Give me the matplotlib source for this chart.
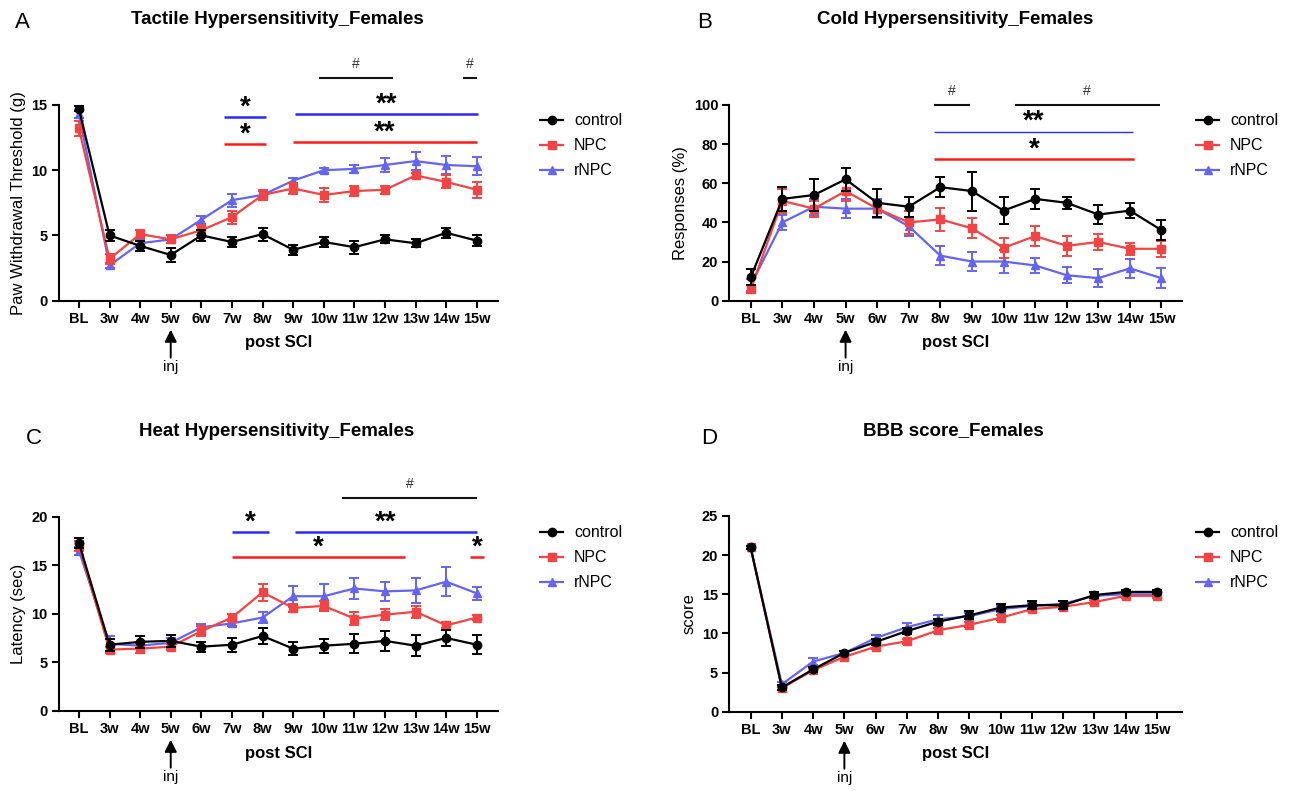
import matplotlib
matplotlib.use("Agg")
import matplotlib.pyplot as plt
from matplotlib.lines import Line2D
import numpy as np

plt.rcParams['font.family'] = ['Liberation Sans', 'DejaVu Sans']

weeks = ['BL', '3w', '4w', '5w', '6w', '7w', '8w', '9w', '10w', '11w', '12w', '13w', '14w', '15w']
groups = ['control', 'NPC', 'rNPC']

# A: tactile (g)
tact_ctrl = [14.7, 5.0, 4.2, 3.5, 5.0, 4.5, 5.1, 3.9, 4.5, 4.1, 4.7, 4.4, 5.2, 4.6]
tact_ctrl_err = [0.2, 0.4, 0.4, 0.5, 0.4, 0.4, 0.5, 0.4, 0.4, 0.5, 0.3, 0.3, 0.4, 0.4]
tact_npc = [13.2, 3.2, 5.1, 4.7, 5.4, 6.4, 8.1, 8.6, 8.1, 8.4, 8.5, 9.6, 9.1, 8.5]
tact_npc_err = [0.6, 0.4, 0.3, 0.3, 0.4, 0.5, 0.4, 0.4, 0.5, 0.4, 0.3, 0.2, 0.5, 0.6]
tact_rnpc = [14.3, 2.7, 4.4, 4.7, 6.2, 7.7, 8.1, 9.2, 10.0, 10.1, 10.4, 10.7, 10.4, 10.3]
tact_rnpc_err = [0.3, 0.2, 0.3, 0.3, 0.3, 0.5, 0.3, 0.2, 0.2, 0.3, 0.5, 0.7, 0.7, 0.7]

# B: cold (%)
cold_ctrl = [12, 52, 54, 62, 50, 48, 58, 56, 46, 52, 50, 44, 46, 36]
cold_ctrl_err = [4, 6, 8, 6, 7, 5, 5, 10, 7, 5, 3, 5, 4, 5]
cold_npc = [6, 51, 47, 56, 47, 40, 41.5, 37, 27, 33, 28, 30, 26.5, 26.5]
cold_npc_err = [2, 6, 4, 5, 4, 6, 6, 5, 5, 5, 5, 4, 3, 4]
cold_rnpc = [8, 40, 48, 47, 47, 38, 23, 20, 20, 18, 13, 11.5, 16.5, 11.5]
cold_rnpc_err = [3, 4, 4, 5, 5, 5, 5, 5, 6, 4, 4, 4.5, 5, 5]

# C: heat (sec)
heat_ctrl = [17.3, 6.8, 7.1, 7.2, 6.6, 6.8, 7.7, 6.4, 6.7, 6.9, 7.2, 6.7, 7.5, 6.8]
heat_ctrl_err = [0.5, 0.6, 0.6, 0.6, 0.5, 0.7, 0.8, 0.7, 0.7, 1.0, 1.0, 1.1, 0.8, 1.0]
heat_npc = [17.0, 6.3, 6.4, 6.6, 8.2, 9.6, 12.2, 10.6, 10.8, 9.5, 9.9, 10.2, 8.8, 9.6]
heat_npc_err = [0.5, 0.3, 0.4, 0.3, 0.5, 0.4, 0.9, 0.4, 0.5, 0.7, 0.6, 0.6, 0.3, 0.3]
heat_rnpc = [16.5, 6.9, 6.7, 7.0, 8.6, 9.0, 9.6, 11.8, 11.8, 12.6, 12.3, 12.4, 13.3, 12.1]
heat_rnpc_err = [0.4, 0.8, 0.3, 0.5, 0.3, 0.3, 0.6, 1.1, 1.3, 1.1, 1.0, 1.3, 1.5, 0.7]

# D: BBB score
bbb_ctrl = [21.0, 3.1, 5.4, 7.5, 8.9, 10.3, 11.5, 12.3, 13.3, 13.6, 13.6, 14.9, 15.3, 15.3]
bbb_ctrl_err = [0.2, 0.3, 0.3, 0.3, 0.4, 0.4, 0.4, 0.5, 0.5, 0.5, 0.5, 0.4, 0.3, 0.3]
bbb_npc = [21.0, 3.0, 5.3, 7.0, 8.3, 9.0, 10.4, 11.1, 12.0, 13.1, 13.4, 14.0, 14.8, 14.8]
bbb_npc_err = [0.2, 0.2, 0.3, 0.3, 0.3, 0.3, 0.3, 0.3, 0.3, 0.3, 0.3, 0.3, 0.3, 0.3]
bbb_rnpc = [21.0, 3.5, 6.4, 7.5, 9.4, 10.8, 11.8, 12.2, 13.1, 13.5, 13.8, 14.8, 15.0, 15.0]
bbb_rnpc_err = [0.2, 0.3, 0.4, 0.3, 0.4, 0.5, 0.5, 0.4, 0.4, 0.4, 0.4, 0.3, 0.3, 0.3]

# significance bars: (x start, x end, y, label, colour key, linewidth)
sig_a = [(7.85, 10.25, 17.1, '#', 'k', 1.5), (12.55, 13.0, 17.1, '#', 'k', 1.5),
         (4.75, 6.1, 14.1, '*', 'b', 1.8), (7.05, 13.05, 14.3, '**', 'b', 1.8),
         (4.75, 6.1, 12.0, '*', 'r', 1.8), (7.0, 13.0, 12.15, '**', 'r', 1.8)]
sig_b = [(5.8, 6.95, 100, '#', 'k', 1.5), (8.35, 12.95, 100, '#', 'k', 1.5),
         (5.8, 12.1, 86.4, '**', 'b', 1.0), (5.8, 12.12, 72.4, '*', 'r', 1.8)]
sig_c = [(8.6, 13.0, 21.9, '#', 'k', 1.5),
         (5.0, 6.2, 18.45, '*', 'b', 1.8), (7.05, 13.0, 18.45, '**', 'b', 1.8),
         (5.0, 10.65, 15.85, '*', 'r', 1.8), (12.78, 13.25, 15.85, '*', 'r', 1.8)]

colors = {'k': '#000000', 'r': '#f24444', 'b': '#6464f2'}
sig_colors = {'k': '#111111', 'r': '#ff1a1a', 'b': '#2a2aff'}

W, H = 1316, 791

# (letter, title, ylabel, axes rect, xlim, ylim, yticks, data, sigs,
#  letter px, title px, legend anchor px)
panels = [
    ('A', 'Tactile Hypersensitivity_Females', 'Paw Withdrawal Threshold (g)',
     [0.0446, 0.6199, 0.334, 0.2474], (-0.66, 13.7), (0, 15), [0, 5, 10, 15],
     (tact_ctrl, tact_ctrl_err, tact_npc, tact_npc_err, tact_rnpc, tact_rnpc_err), sig_a,
     (15, 22), (277, 20), (526, 99)),
    ('B', 'Cold Hypersensitivity_Females', 'Responses (%)',
     [0.5542, 0.6199, 0.344, 0.2474], (-0.68, 13.65), (0, 100), [0, 20, 40, 60, 80, 100],
     (cold_ctrl, cold_ctrl_err, cold_npc, cold_npc_err, cold_rnpc, cold_rnpc_err), sig_b,
     (697, 22), (955, 20), (1182, 99)),
    ('C', 'Heat Hypersensitivity_Females', 'Latency (sec)',
     [0.0446, 0.1015, 0.334, 0.2453], (-0.66, 13.7), (0, 20), [0, 5, 10, 15, 20],
     (heat_ctrl, heat_ctrl_err, heat_npc, heat_npc_err, heat_rnpc, heat_rnpc_err), sig_c,
     (26, 439), (277, 431), (526, 511)),
    ('D', 'BBB score_Females', 'score',
     [0.5542, 0.1003, 0.344, 0.2474], (-0.68, 13.8), (0, 25), [0, 5, 10, 15, 20, 25],
     (bbb_ctrl, bbb_ctrl_err, bbb_npc, bbb_npc_err, bbb_rnpc, bbb_rnpc_err), [],
     (701, 439), (953, 431), (1182, 511)),
]

fig = plt.figure(figsize=(W / 100, H / 100), dpi=100)
x = np.arange(len(weeks))

for (letter, title, ylabel, rect, xlim, ylim, yticks, data, sigs,
     lpos, tpos, legpos) in panels:
    ax = fig.add_axes(rect)
    c, ce, n, ne, r, re_ = data
    eb = dict(ms=6, lw=1.6, capsize=3.5, elinewidth=1.4, capthick=1.4)
    ax.errorbar(x, r, yerr=re_, color=colors['b'], marker='^', zorder=3, **eb)
    ax.errorbar(x, n, yerr=ne, color=colors['r'], marker='s', zorder=4, **eb)
    ax.errorbar(x, c, yerr=ce, color=colors['k'], marker='o', zorder=5, **eb)

    ax.set_xlim(*xlim)
    ax.set_ylim(*ylim)
    ax.set_yticks(yticks)
    ax.set_xticks(x)
    ax.set_xticklabels(weeks)
    for s in ['top', 'right']:
        ax.spines[s].set_visible(False)
    for s in ['left', 'bottom']:
        ax.spines[s].set_linewidth(1.5)
    ax.tick_params(axis='both', width=1.5, length=5, labelsize=10.5, pad=3)
    for t in ax.get_xticklabels() + ax.get_yticklabels():
        t.set_fontweight('bold')
    ax.set_ylabel(ylabel, fontsize=12, labelpad=4)
    ax.set_xlabel('post SCI', fontsize=12, fontweight='bold', labelpad=7)

    # injection arrow under 5w (positions in pixels below the x axis)
    ax_h = rect[3] * H
    ax.annotate('', xy=(3, -29 / ax_h), xycoords=('data', 'axes fraction'),
                xytext=(3, -57 / ax_h), textcoords=('data', 'axes fraction'),
                arrowprops=dict(arrowstyle='-|>', color='black', lw=1.4,
                                mutation_scale=18, shrinkA=0, shrinkB=0),
                annotation_clip=False)
    ax.text(3, -66 / ax_h, 'inj', transform=ax.get_xaxis_transform(),
            ha='center', va='center', fontsize=11)

    for x0, x1, yy, lab, ck, lw in sigs:
        ax.plot([x0, x1], [yy, yy], color=sig_colors[ck], lw=lw, clip_on=False,
                solid_capstyle='butt')
        if lab == '#':
            ax.annotate(lab, xy=((x0 + x1) / 2, yy), xytext=(0, 5),
                        textcoords='offset points', ha='center', va='bottom',
                        fontsize=10, color='#333333', annotation_clip=False)
        else:
            ax.annotate(lab, xy=((x0 + x1) / 2, yy), xytext=(0, -2.5),
                        textcoords='offset points', ha='center', va='bottom',
                        fontsize=20, fontweight='bold', color='black',
                        annotation_clip=False)

    fig.text(lpos[0] / W, 1 - lpos[1] / H, letter, fontsize=16, ha='left', va='center')
    fig.text(tpos[0] / W, 1 - tpos[1] / H, title, fontsize=13.5, fontweight='bold',
             ha='center', va='center')

    handles = [Line2D([], [], color=colors['k'], marker='o', ms=6, lw=1.6),
               Line2D([], [], color=colors['r'], marker='s', ms=6, lw=1.6),
               Line2D([], [], color=colors['b'], marker='^', ms=6, lw=1.6)]
    fig.legend(handles, groups, loc='upper left',
               bbox_to_anchor=(legpos[0] / W, 1 - legpos[1] / H),
               frameon=False, fontsize=11.5, handlelength=1.4, labelspacing=0.62,
               handletextpad=0.7)

fig.savefig('out.png', dpi=100)
